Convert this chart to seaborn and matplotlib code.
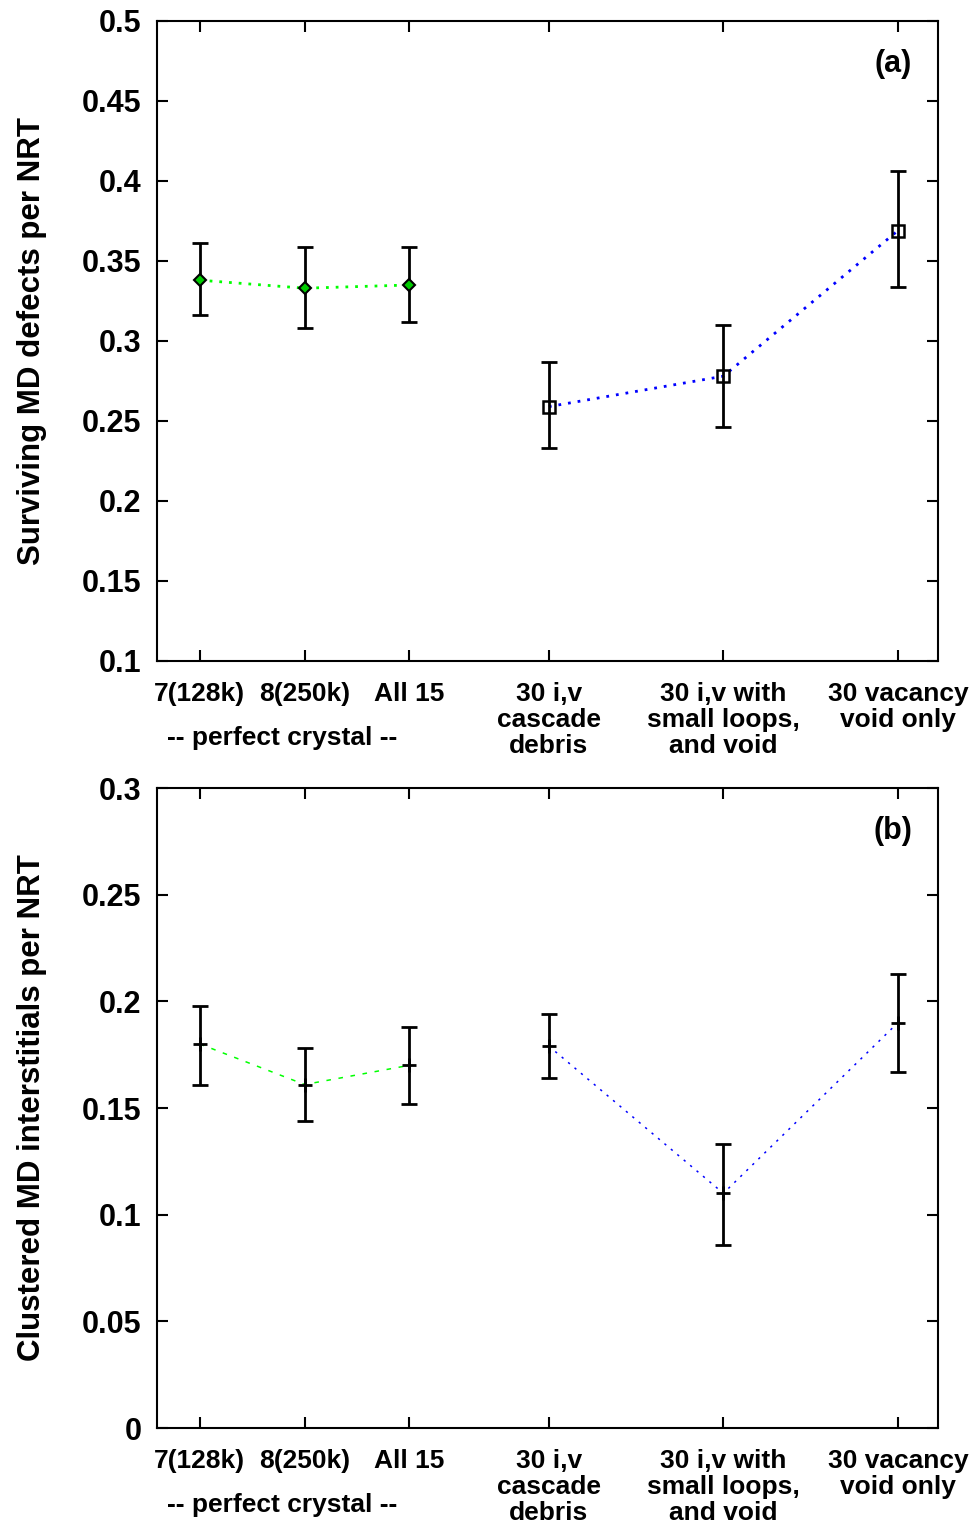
import pandas as pd
import seaborn as sns
import matplotlib.pyplot as plt

# Categories along the x axis (six simulation sets)
labels = ['7(128k)', '8(250k)', 'All 15',
          '30 i,v\ncascade\ndebris',
          '30 i,v with\nsmall loops,\nand void',
          '30 vacancy\nvoid only']
xpos = [1, 2, 3, 4.333, 6, 7.667]
group = ['perfect', 'perfect', 'perfect', 'damaged', 'damaged', 'damaged']

# (a) surviving MD defects per NRT
surv_mean = [0.338, 0.333, 0.335, 0.259, 0.278, 0.369]
surv_lo = [0.316, 0.308, 0.312, 0.233, 0.246, 0.334]
surv_hi = [0.361, 0.359, 0.359, 0.287, 0.310, 0.406]

# (b) clustered MD interstitials per NRT
clus_mean = [0.180, 0.161, 0.170, 0.179, 0.110, 0.190]
clus_lo = [0.161, 0.144, 0.152, 0.164, 0.086, 0.167]
clus_hi = [0.198, 0.178, 0.188, 0.194, 0.133, 0.213]

top_ticks = [0.1, 0.15, 0.2, 0.25, 0.3, 0.35, 0.4, 0.45, 0.5]
top_ticklabels = ['0.1', '0.15', '0.2', '0.25', '0.3', '0.35', '0.4', '0.45', '0.5']
bot_ticks = [0, 0.05, 0.1, 0.15, 0.2, 0.25, 0.3]
bot_ticklabels = ['0', '0.05', '0.1', '0.15', '0.2', '0.25', '0.3']

sns.set_style('ticks')
plt.rcParams['font.family'] = ['Liberation Sans', 'DejaVu Sans']
plt.rcParams['font.weight'] = 'bold'
plt.rcParams['axes.labelweight'] = 'bold'
plt.rcParams['text.color'] = 'black'
plt.rcParams['axes.labelcolor'] = 'black'
plt.rcParams['xtick.color'] = 'black'
plt.rcParams['ytick.color'] = 'black'

df_a = pd.DataFrame({'x': xpos, 'y': surv_mean, 'lo': surv_lo, 'hi': surv_hi, 'group': group})
df_b = pd.DataFrame({'x': xpos, 'y': clus_mean, 'lo': clus_lo, 'hi': clus_hi, 'group': group})

fig = plt.figure(figsize=(9.71, 15.28), dpi=100)
W, H = 971, 1528
ax1 = fig.add_axes([157 / W, 1 - 661 / H, 781 / W, 640 / H])
ax2 = fig.add_axes([157 / W, 1 - 1428 / H, 781 / W, 640 / H])


def draw_panel(ax, df, top):
    per = df[df['group'] == 'perfect']
    dam = df[df['group'] == 'damaged']
    if top:
        sns.lineplot(data=per, x='x', y='y', ax=ax, color='#00ff00', lw=2,
                     linestyle=(0, (1, 2.5)), sort=False)
        sns.lineplot(data=dam, x='x', y='y', ax=ax, color='#0000ff', lw=2,
                     linestyle=(0, (1, 2.5)), sort=False)
    else:
        sns.lineplot(data=per, x='x', y='y', ax=ax, color='#00ff00', lw=1.1,
                     linestyle=(0, (3, 5)), sort=False)
        sns.lineplot(data=dam, x='x', y='y', ax=ax, color='#0000ff', lw=1.1,
                     linestyle=(0, (1.5, 4)), sort=False)
    ax.errorbar(df['x'], df['y'], yerr=[df['y'] - df['lo'], df['hi'] - df['y']],
                fmt='none', ecolor='black', elinewidth=2, capsize=5.5, capthick=2, zorder=3)
    if top:
        ax.plot(per['x'], per['y'], ls='none', marker='D', ms=6, mfc='#00cc00',
                mec='black', mew=1.5, zorder=4)
        ax.plot(dam['x'], dam['y'], ls='none', marker='s', ms=8.5, mfc='none',
                mec='black', mew=1.8, zorder=4)
    else:
        ax.plot(df['x'], df['y'], ls='none', marker='+', ms=10, mec='black',
                mew=2, zorder=4)


draw_panel(ax1, df_a, True)
draw_panel(ax2, df_b, False)

for ax, ticks, tlabels, ylab, tag in [
        (ax1, top_ticks, top_ticklabels, 'Surviving MD defects per NRT', '(a)'),
        (ax2, bot_ticks, bot_ticklabels, 'Clustered MD interstitials per NRT', '(b)')]:
    ax.set_xlim(0.59, 8.05)
    ax.set_ylim(ticks[0], ticks[-1])
    ax.set_yticks(ticks, tlabels)
    ax.set_xticks(xpos, labels, linespacing=1.1)
    ax.tick_params(direction='in', top=True, right=True, length=8, width=1.5,
                   colors='black')
    ax.tick_params(axis='x', labelsize=19, pad=15)
    ax.tick_params(axis='y', labelsize=22, pad=11)
    for s in ax.spines.values():
        s.set_linewidth(1.5)
        s.set_color('black')
    ax.set_xlabel('')
    ax.set_ylabel(ylab, fontsize=22.5, fontweight='bold')
    ax.yaxis.set_label_coords(-0.141, 0.5)
    ax.text(0.967, 0.933, tag, transform=ax.transAxes, ha='right', va='center',
            fontsize=22, fontweight='bold')
    ax.text(0.16, -0.121, '-- perfect crystal --', transform=ax.transAxes,
            ha='center', va='center', fontsize=19, fontweight='bold')

fig.savefig('out.png', dpi=100)
